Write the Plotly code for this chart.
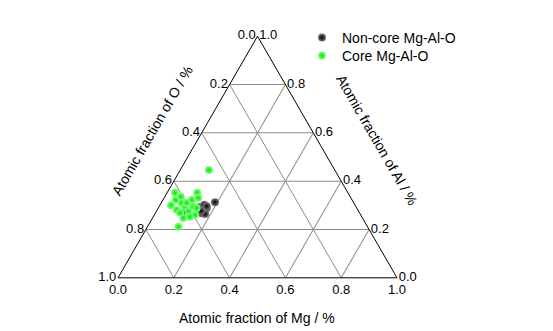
import plotly.graph_objects as go

# Ternary data (fractions): Mg, Al, O = 1 - Mg - Al
noncore_mg = [0.191, 0.165, 0.174, 0.166, 0.151, 0.110, 0.103, 0.180, 0.147, 0.158, 0.160, 0.170]
noncore_al = [0.313, 0.281, 0.288, 0.267, 0.274, 0.281, 0.274, 0.264, 0.293, 0.302, 0.276, 0.296]

core_mg = [0.103, 0.028, 0.046, 0.070, 0.057, 0.073, 0.093, 0.110, 0.111, 0.103,
           0.108, 0.122, 0.115, 0.122, 0.146, 0.137, 0.091, 0.131, 0.088, 0.040]
core_al = [0.446, 0.352, 0.322, 0.281, 0.336, 0.310, 0.295, 0.248, 0.211, 0.322,
           0.352, 0.331, 0.274, 0.295, 0.260, 0.289, 0.310, 0.253, 0.269, 0.300]

noncore_o = [round(1 - m - a, 3) for m, a in zip(noncore_mg, noncore_al)]
core_o = [round(1 - m - a, 3) for m, a in zip(core_mg, core_al)]

tick_vals = [0, 0.2, 0.4, 0.6, 0.8, 1.0]
tick_text_rev = ["1.0", "0.8", "0.6", "0.4", "0.2", "0.0"]

FONT = "Arial, Liberation Sans, sans-serif"

fig = go.Figure()
fig.add_trace(go.Scatterternary(
    a=noncore_al, b=noncore_o, c=noncore_mg, mode="markers",
    name="Non-core Mg-Al-O", legend="legend",
    marker=dict(size=8, color="#7a7a7a", gradient=dict(type="radial", color="#000000"),
                line=dict(width=0)),
))
fig.add_trace(go.Scatterternary(
    a=core_al, b=core_o, c=core_mg, mode="markers",
    name="Core Mg-Al-O", legend="legend2",
    marker=dict(size=8, color="#8aff8a", gradient=dict(type="radial", color="#00e600"),
                line=dict(width=0)),
))

axis_common = dict(
    tickmode="array", tickvals=tick_vals, ticktext=tick_text_rev,
    showline=True, linecolor="black", linewidth=1,
    showgrid=True, gridcolor="#8c8c8c", gridwidth=1,
    ticks="", tickfont=dict(family=FONT, size=13, color="black"),
    title=dict(text=""), min=0,
)

legend_common = dict(xanchor="left", yanchor="top",
                     font=dict(family=FONT, size=14, color="black"),
                     bgcolor="rgba(0,0,0,0)")

fig.update_layout(
    width=553, height=331,
    margin=dict(l=0, r=0, t=0, b=0),
    paper_bgcolor="white",
    font=dict(family=FONT, size=13, color="black"),
    ternary=dict(
        domain=dict(x=[118 / 553, 397 / 553], y=[53 / 331, 295 / 331]),
        bgcolor="white",
        sum=1,
        aaxis=axis_common,
        baxis=axis_common,
        caxis=axis_common,
    ),
    legend=dict(x=302 / 553, y=1 - 22 / 331, **legend_common),
    legend2=dict(x=302 / 553, y=1 - 40 / 331, **legend_common),
    showlegend=True,
    annotations=[
        dict(text="Atomic fraction of Mg / %", x=257 / 553, y=1 - 318 / 331, xref="paper", yref="paper",
             xanchor="center", yanchor="middle",
             showarrow=False, font=dict(family=FONT, size=14, color="black")),
        dict(text="Atomic fraction of O / %", x=152 / 553, y=1 - 131 / 331, xref="paper", yref="paper",
             xanchor="center", yanchor="middle",
             showarrow=False, textangle=-60, font=dict(family=FONT, size=14, color="black")),
        dict(text="Atomic fraction of Al / %", x=377 / 553, y=1 - 140 / 331, xref="paper", yref="paper",
             xanchor="center", yanchor="middle",
             showarrow=False, textangle=60, font=dict(family=FONT, size=14, color="black")),
    ],
)

fig.write_html("out.html")
